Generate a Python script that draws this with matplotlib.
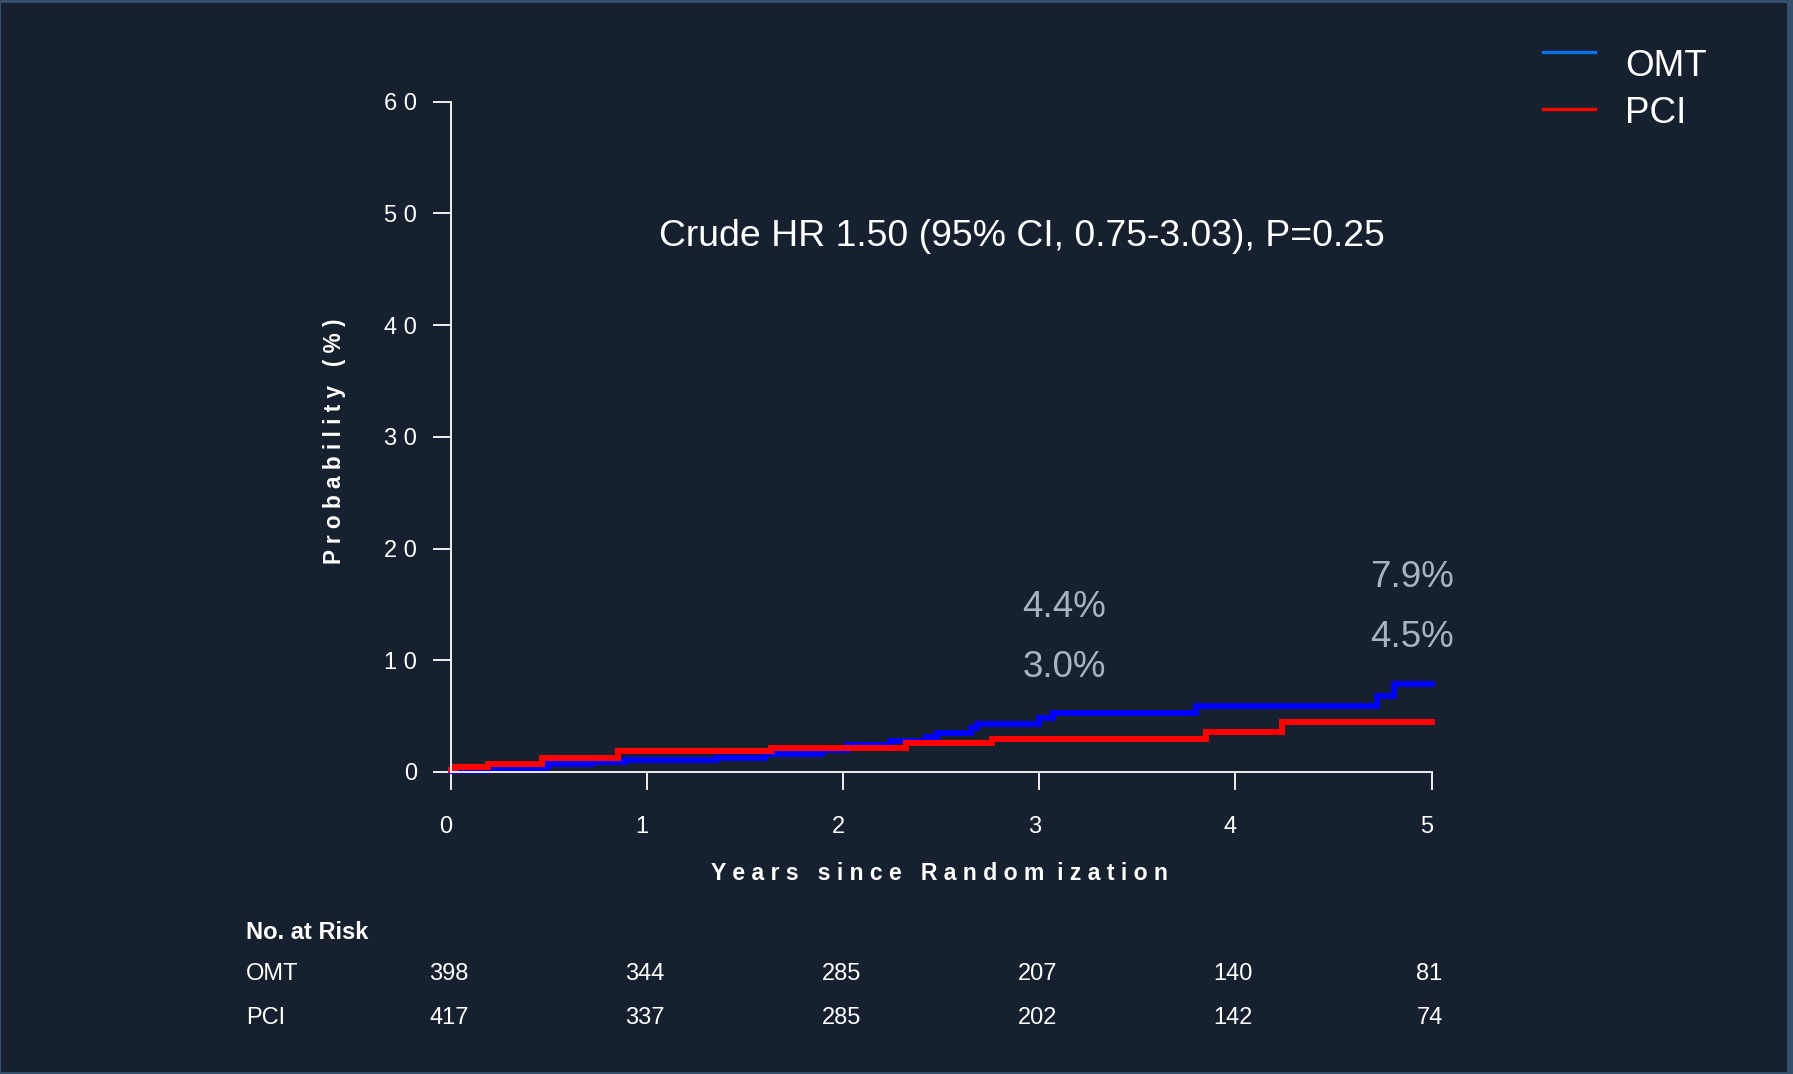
import matplotlib
matplotlib.use("Agg")
import matplotlib.pyplot as plt
from matplotlib.lines import Line2D
from matplotlib.patches import Rectangle
from matplotlib.transforms import ScaledTranslation, blended_transform_factory

plt.rcParams['font.family'] = ['Liberation Sans', 'DejaVu Sans']

# ---- data ----
omt_times = [0, 0.19, 0.48, 0.495, 0.72, 0.888, 1.35, 1.60, 1.89, 2.02, 2.24, 2.42, 2.48, 2.65, 2.68, 3.00, 3.07, 3.80, 4.72, 4.81, 5.0]
omt_vals = [0.05, 0.2, 0.45, 0.68, 0.9, 1.08, 1.26, 1.65, 1.95, 2.43, 2.77, 3.12, 3.53, 3.95, 4.34, 4.79, 5.30, 5.90, 6.80, 7.87, 7.87]
pci_times = [0, 0.02, 0.19, 0.463, 0.854, 1.63, 2.32, 2.76, 3.85, 4.24, 5.0]
pci_vals = [0.2, 0.47, 0.74, 1.26, 1.86, 2.19, 2.62, 2.93, 3.59, 4.49, 4.49]

x_ticks = [0, 1, 2, 3, 4, 5]
x_ticklabels = ["0", "1", "2", "3", "4", "5"]
y_ticks = [0, 10, 20, 30, 40, 50, 60]
y_ticklabels = ["0", "1 0", "2 0", "3 0", "4 0", "5 0", "6 0"]

risk_groups = ["OMT", "PCI"]
risk_omt = [398, 344, 285, 207, 140, 81]
risk_pci = [417, 337, 285, 202, 142, 74]

title_text = "Crude HR 1.50 (95% CI, 0.75-3.03), P=0.25"
annot_3y = ["4.4%", "3.0%"]
annot_5y = ["7.9%", "4.5%"]

BG = "#16202e"
W, H = 1793, 1074

fig = plt.figure(figsize=(W / 100, H / 100), dpi=100, facecolor=BG)

def fx(x):
    return x / W

def fy(y):
    return 1 - y / H

AX_L, AX_R, AX_T, AX_B = 451, 1431.5, 101.5, 772
ax = fig.add_axes([fx(AX_L), fy(AX_B), (AX_R - AX_L) / W, (AX_B - AX_T) / H])
ax.set_facecolor(BG)
ax.set_xlim(0, 5)
ax.set_ylim(0, 60)

ax.step(omt_times, omt_vals, where='post', color='#0000ff', lw=4.3, clip_on=False, solid_joinstyle='miter')
ax.step(pci_times, pci_vals, where='post', color='#ff0000', lw=4.3, clip_on=False, solid_joinstyle='miter')

for s in ['top', 'right']:
    ax.spines[s].set_visible(False)
for s in ['left', 'bottom']:
    ax.spines[s].set_color('white')
    ax.spines[s].set_linewidth(1.3)

ax.set_xticks(x_ticks)
ax.set_xticklabels(x_ticklabels)
ax.set_yticks(y_ticks)
ax.set_yticklabels(y_ticklabels)
ax.tick_params(axis='both', colors='white', direction='out', length=13, width=1.3, labelsize=17)
ax.tick_params(axis='x', pad=19)
ax.tick_params(axis='y', pad=11.5)
off = ScaledTranslation(-5 / 100, 0, fig.dpi_scale_trans)
for lab in ax.get_xticklabels():
    lab.set_transform(lab.get_transform() + off)

# axis labels
fig.text(fx(939), fy(873), "Y e a r s   s i n c e   R a n d o m  i z a t i o n",
         color='white', fontsize=16.6, fontweight='bold', ha='center', va='center')
fig.text(fx(335), fy(441.6), "P r o b a b i l i t y   ( % )", color='white', fontsize=16.3,
         fontweight='bold', rotation=90, ha='center', va='center')

# title annotation
fig.text(fx(1021.5), fy(246.5), title_text, color='white', fontsize=26.9, ha='center', va='baseline')

# percentage annotations
ann_col = '#a8b3c2'
fig.text(fx(1064), fy(607.5), annot_3y[0], color=ann_col, fontsize=26.5, ha='center', va='center')
fig.text(fx(1064), fy(667.5), annot_3y[1], color=ann_col, fontsize=26.5, ha='center', va='center')
fig.text(fx(1412), fy(577.5), annot_5y[0], color=ann_col, fontsize=26.5, ha='center', va='center')
fig.text(fx(1412), fy(637.5), annot_5y[1], color=ann_col, fontsize=26.5, ha='center', va='center')

# legend
fig.add_artist(Line2D([fx(1543), fx(1595)], [fy(52), fy(52)], color='#0a74f0', lw=2.4))
fig.add_artist(Line2D([fx(1543), fx(1595)], [fy(109), fy(109)], color='#ff0000', lw=2.4))
fig.text(fx(1625), fy(76), risk_groups[0], color='white', fontsize=26.5, ha='left', va='baseline')
fig.text(fx(1625), fy(123), risk_groups[1], color='white', fontsize=26.5, ha='left', va='baseline')

# risk table
fig.text(fx(246), fy(932.5), "No. at Risk", color='white', fontsize=17, fontweight='bold', ha='left', va='center')
fig.text(fx(246), fy(974.5), risk_groups[0], color='white', fontsize=17, ha='left', va='center')
fig.text(fx(246), fy(1017.5), risk_groups[1], color='white', fontsize=17, ha='left', va='center')
tr = blended_transform_factory(ax.transData, fig.transFigure) + ScaledTranslation(-2 / 100, 0, fig.dpi_scale_trans)
for t, n1, n2 in zip(x_ticks, risk_omt, risk_pci):
    fig.text(t, fy(974.5), str(n1), color='white', fontsize=17, ha='center', va='center', transform=tr)
    fig.text(t, fy(1017.5), str(n2), color='white', fontsize=17, ha='center', va='center', transform=tr)

# border
bc = '#36506c'
fig.add_artist(Rectangle((0, fy(3)), 1, 3 / H, transform=fig.transFigure, color=bc, lw=0))
fig.add_artist(Rectangle((0, 0), 1, 2.5 / H, transform=fig.transFigure, color=bc, lw=0))
fig.add_artist(Rectangle((0, 0), 1.2 / W, 1, transform=fig.transFigure, color=bc, lw=0))
fig.add_artist(Rectangle((fx(W - 6), 0), 6 / W, 1, transform=fig.transFigure, color=bc, lw=0))

fig.savefig("out.png", dpi=100, facecolor=BG)
